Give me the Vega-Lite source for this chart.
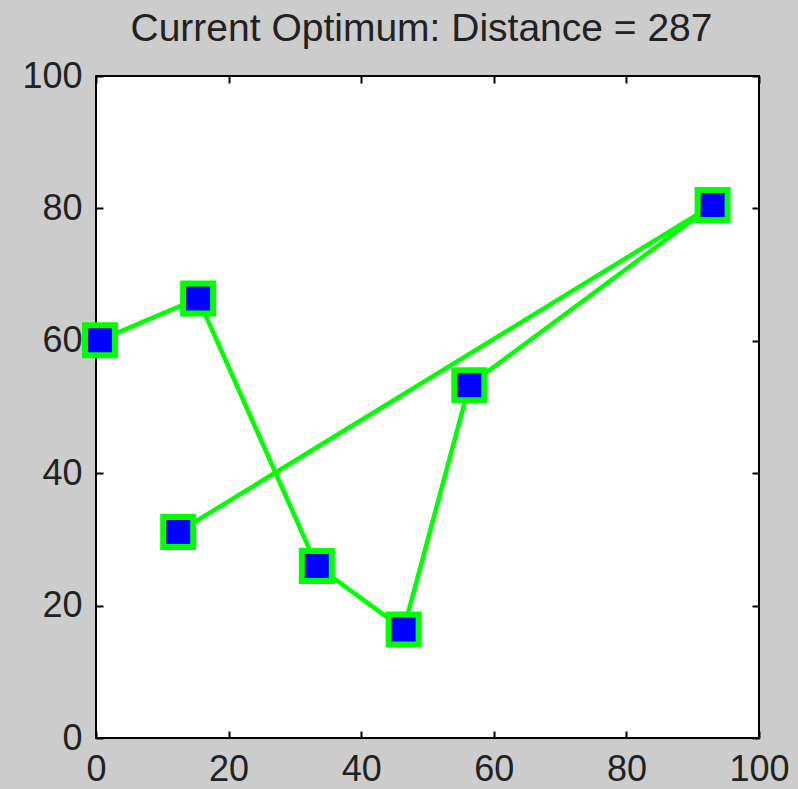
{
  "$schema": "https://vega.github.io/schema/vega-lite/v6.json",
  "width": 663,
  "height": 662,
  "autosize": "none",
  "padding": {"left": 96, "top": 76, "right": 39, "bottom": 51},
  "background": "#cccccc",
  "title": {
    "text": "Current Optimum: Distance = 287",
    "font": "Liberation Sans",
    "fontSize": 39,
    "fontWeight": "normal",
    "color": "#222222",
    "anchor": "middle",
    "offset": 9,
    "dx": -6
  },
  "config": {
    "view": {"stroke": "#000000", "strokeWidth": 2, "fill": "#ffffff"},
    "axis": {
      "domain": false,
      "grid": false,
      "tickSize": -7,
      "tickColor": "#000000",
      "tickWidth": 2,
      "labelFont": "Liberation Sans",
      "labelFontSize": 36,
      "labelColor": "#222222",
      "labelFlush": false,
      "labelOverlap": false,
      "title": null
    }
  },
  "data": {
    "values": [
      {"order": 1, "x": 0.6, "y": 60.1},
      {"order": 2, "x": 15.4, "y": 66.4},
      {"order": 3, "x": 33.3, "y": 26.0},
      {"order": 4, "x": 46.4, "y": 16.4},
      {"order": 5, "x": 56.3, "y": 53.3},
      {"order": 6, "x": 93.0, "y": 80.5},
      {"order": 7, "x": 12.4, "y": 31.1}
    ]
  },
  "resolve": {"axis": {"x": "independent", "y": "independent"}},
  "layer": [
    {
      "mark": {"type": "line", "color": "#00ff00", "strokeWidth": 4.5},
      "encoding": {
        "x": {"field": "x", "type": "quantitative", "scale": {"domain": [0, 100], "nice": false, "zero": false},
              "axis": {"orient": "bottom", "values": [0, 20, 40, 60, 80, 100], "labelPadding": 21}},
        "y": {"field": "y", "type": "quantitative", "scale": {"domain": [0, 100], "nice": false, "zero": false},
              "axis": {"orient": "left", "values": [0, 20, 40, 60, 80, 100], "labelPadding": 21}},
        "order": {"field": "order", "type": "quantitative"}
      }
    },
    {
      "mark": {"type": "square", "filled": true, "fill": "#0000ff", "stroke": "#00ff00", "strokeWidth": 6, "size": 900, "opacity": 1},
      "encoding": {
        "x": {"field": "x", "type": "quantitative", "scale": {"domain": [0, 100], "nice": false, "zero": false},
              "axis": {"orient": "top", "values": [0, 20, 40, 60, 80, 100], "labels": false}},
        "y": {"field": "y", "type": "quantitative", "scale": {"domain": [0, 100], "nice": false, "zero": false},
              "axis": {"orient": "right", "values": [0, 20, 40, 60, 80, 100], "labels": false}}
      }
    }
  ]
}
